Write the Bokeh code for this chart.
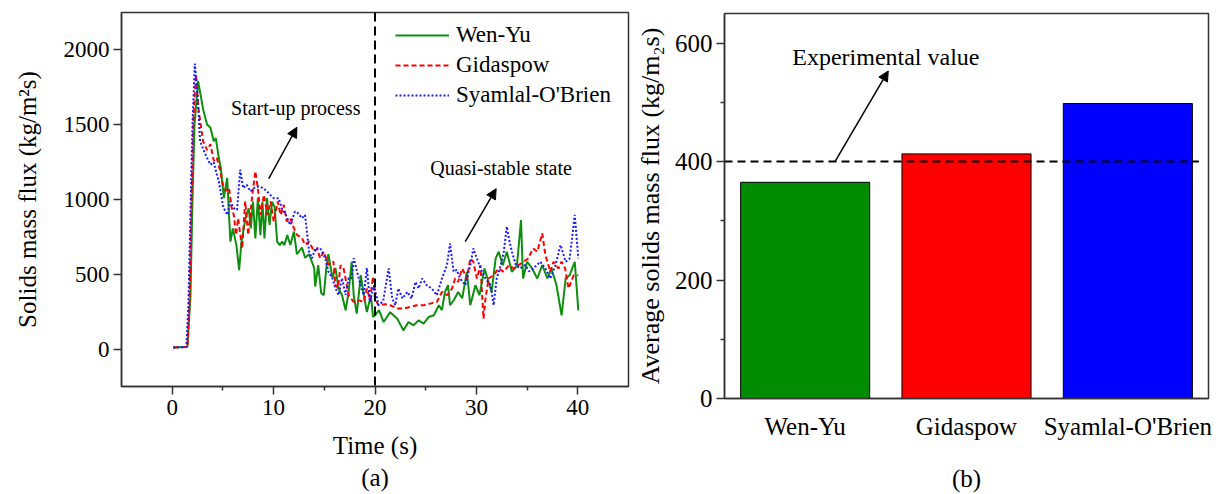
from bokeh.plotting import figure
from bokeh.layouts import row, column
from bokeh.models import (FixedTicker, Span, Arrow, NormalHead, Label, Legend,
                          LegendItem, Range1d, ColumnDataSource, Title)
from bokeh.embed import file_html
from bokeh.resources import INLINE

# ---------------- data ----------------
series_names = ["Wen-Yu", "Gidaspow", "Syamlal-O'Brien"]

wen_yu_t = [0.1, 1.5, 1.8, 2.0, 2.2, 2.55, 2.8, 3.05, 3.44, 3.77,
            4.1, 4.3, 4.6, 4.8, 5.09, 5.42, 5.74, 5.98, 6.33, 6.6,
            6.83, 7.06, 7.3, 7.55, 7.75, 7.97, 8.2, 8.45, 8.7, 8.9,
            9.1, 9.35, 9.6, 9.85, 10.1, 10.35, 10.6, 10.85, 11.06, 11.35,
            11.65, 12.0, 12.3, 12.8, 13.1, 13.5, 14.0, 14.1, 14.4, 14.7,
            14.95, 15.2, 15.4, 15.8, 16.1, 16.4, 16.75, 17.1, 17.4, 17.7,
            17.9, 18.2, 18.6, 18.9, 19.2, 19.6, 19.8, 20.0, 20.4, 20.85,
            21.5, 22.2, 22.8, 23.3, 23.8, 24.3, 24.8, 25.3, 25.8, 26.3,
            26.6, 26.9, 27.2, 27.4, 27.8, 28.2, 28.6, 29.06, 29.4, 29.9,
            30.3, 30.8, 31.5, 31.9, 32.2, 32.6, 33.0, 33.5, 34.0, 34.4,
            34.6, 35.0, 35.5, 36.0, 36.5, 37.0, 37.4, 37.9, 38.4, 38.8,
            39.2, 39.7, 40.05]
wen_yu_flux = [10, 15, 350, 1000, 1500, 1792, 1700, 1602, 1501, 1480,
               1389, 1410, 1277, 1210, 1009, 1144, 718, 807, 695, 528,
               718, 807, 896, 941, 807, 985, 740, 1009, 762, 985,
               740, 1009, 830, 985, 950, 718, 695, 718, 695, 762,
               696, 786, 634, 679, 611, 634, 543, 418, 561, 373,
               360, 543, 634, 477, 543, 405, 360, 259, 382, 583,
               360, 237, 494, 360, 248, 360, 215, 226, 260, 181,
               247, 203, 125, 181, 159, 192, 170, 215, 226, 293,
               260, 382, 427, 293, 330, 382, 340, 516, 293, 427,
               360, 539, 382, 606, 651, 560, 651, 516, 560, 863,
               472, 584, 539, 472, 561, 472, 539, 427, 226, 472,
               494, 584, 259]

gidaspow_t = [0.1, 1.5, 1.7, 1.9, 2.1, 2.35, 2.6, 3.05, 3.44, 3.77,
              4.1, 4.4, 4.7, 5.0, 5.3, 5.6, 5.85, 6.07, 6.3, 6.5,
              6.9, 7.2, 7.5, 7.9, 8.2, 8.45, 8.7, 9.05, 9.4, 9.7,
              10.01, 10.4, 10.7, 11.0, 11.3, 11.65, 12.0, 12.3, 12.8, 13.1,
              13.5, 14.0, 14.3, 14.6, 14.95, 15.4, 15.9, 16.1, 16.35, 16.6,
              16.9, 17.4, 17.9, 18.4, 18.9, 19.2, 19.5, 19.8, 20.0, 20.35,
              21.0, 21.5, 22.2, 22.8, 23.5, 24.1, 24.8, 25.45, 26.1, 26.6,
              27.1, 27.6, 27.9, 28.2, 28.6, 29.06, 29.4, 29.7, 30.05, 30.4,
              30.7, 30.9, 31.2, 31.7, 32.2, 32.7, 33.2, 33.7, 34.15, 34.65,
              35.1, 35.6, 36.0, 36.5, 36.8, 37.3, 37.6, 38.1, 38.4, 38.75,
              39.08, 39.6, 40.05]
gidaspow_flux = [10, 15, 300, 1000, 1550, 1837, 1600, 1389, 1330, 1370,
                 1260, 1280, 1200, 1100, 1060, 1080, 950, 897, 763, 874,
                 673, 987, 763, 1031, 1188, 1076, 897, 1031, 897, 987,
                 853, 987, 897, 965, 853, 875, 809, 763, 741, 697,
                 719, 652, 670, 607, 652, 563, 585, 429, 407, 560,
                 541, 360, 315, 326, 315, 405, 330, 483, 338, 293,
                 300, 293, 271, 271, 282, 293, 293, 304, 315, 382,
                 360, 405, 472, 449, 539, 472, 606, 584, 472, 561,
                 203, 338, 472, 494, 539, 516, 561, 539, 561, 584,
                 606, 673, 651, 774, 629, 516, 584, 539, 584, 540,
                 405, 494, 494]

syamlal_t = [0.1, 1.4, 1.6, 1.8, 2.0, 2.23, 2.5, 2.75, 3.1, 3.44,
             3.77, 4.1, 4.35, 4.6, 5.0, 5.25, 5.45, 5.7, 6.07, 6.4,
             6.7, 7.0, 7.35, 7.7, 8.05, 8.5, 9.0, 9.5, 10.0, 10.5,
             10.8, 11.2, 11.65, 12.1, 12.4, 12.8, 13.1, 13.5, 13.8, 14.1,
             14.6, 15.1, 15.4, 15.8, 16.1, 16.4, 16.75, 17.1, 17.4, 17.7,
             17.9, 18.15, 18.4, 18.65, 18.9, 19.2, 19.5, 19.9, 20.35, 20.8,
             21.35, 21.7, 22.0, 22.3, 22.7, 23.2, 23.6, 24.0, 24.3, 24.65,
             25.1, 25.6, 26.1, 26.6, 27.1, 27.4, 27.75, 28.05, 28.4, 28.9,
             29.4, 29.7, 30.05, 30.4, 30.9, 31.4, 31.7, 32.0, 32.4, 32.7,
             33.0, 33.2, 33.5, 33.9, 34.3, 34.8, 35.2, 35.6, 36.3, 36.8,
             37.3, 37.8, 38.3, 38.8, 39.2, 39.7, 40.05]
syamlal_flux = [10, 15, 300, 900, 1500, 1908, 1700, 1389, 1330, 1277,
                1233, 1250, 1180, 1121, 960, 919, 897, 987, 942, 930,
                1199, 1076, 1099, 1054, 1076, 1087, 1076, 1043, 1009, 1009,
                942, 897, 830, 920, 909, 875, 897, 652, 607, 674,
                674, 607, 518, 474, 407, 362, 474, 362, 474, 474,
                608, 540, 474, 407, 362, 541, 317, 427, 293, 320,
                539, 338, 293, 405, 338, 382, 338, 449, 405, 472,
                427, 405, 360, 472, 562, 707, 517, 530, 472, 427,
                562, 673, 606, 540, 472, 427, 293, 472, 560, 651,
                819, 740, 651, 560, 539, 562, 520, 539, 584, 539,
                472, 562, 696, 584, 606, 897, 606]

switch_time = 20
avg_models = ["Wen-Yu", "Gidaspow", "Syamlal-O'Brien"]
avg_flux = [365, 413, 498]
exp_value = 400

x_ticks_a = [0, 10, 20, 30, 40]
x_minor_a = [5, 15, 25, 35]
y_ticks_a = [0, 500, 1000, 1500, 2000]
y_ticks_b = [0, 200, 400, 600]
y_minor_b = [100, 300, 500]

FONT = "Liberation Serif"
AX = "#333333"

def style_axes(p, tick_size, label_size):
    p.grid.visible = False
    p.outline_line_color = AX
    p.outline_line_width = 1.5
    for ax in p.axis:
        ax.axis_line_color = AX
        ax.axis_line_width = 1.5
        ax.major_tick_line_color = AX
        ax.minor_tick_line_color = AX
        ax.major_tick_line_width = 1.5
        ax.minor_tick_line_width = 1.5
        ax.major_tick_in = 0
        ax.minor_tick_in = 0
        ax.major_tick_out = 8
        ax.minor_tick_out = 4
        ax.major_label_text_font = FONT
        ax.major_label_text_font_size = tick_size
        ax.major_label_text_color = "black"
        ax.axis_label_text_font = FONT
        ax.axis_label_text_font_size = label_size
        ax.axis_label_text_font_style = "normal"
        ax.axis_label_text_color = "black"

# ---------------- panel (a) ----------------
p1 = figure(width=630, height=494, x_range=Range1d(-5, 45), y_range=Range1d(-250, 2250),
            output_backend="svg", toolbar_location=None,
            min_border_left=121, min_border_right=2, min_border_top=12, min_border_bottom=108)
style_axes(p1, "23px", "25px")
p1.xaxis.ticker = FixedTicker(ticks=x_ticks_a, minor_ticks=x_minor_a)
p1.yaxis.ticker = FixedTicker(ticks=y_ticks_a, minor_ticks=[])
p1.xaxis.axis_label = "Time (s)"
p1.yaxis.axis_label = "Solids mass flux (kg/m\u00b2s)"
p1.xaxis.major_label_standoff = 5
p1.xaxis.axis_label_standoff = 14
p1.yaxis.major_label_standoff = 4
p1.yaxis.axis_label_standoff = 20

r1 = p1.line(wen_yu_t, wen_yu_flux, line_color="#0f8f0f", line_width=2)
r2 = p1.line(gidaspow_t, gidaspow_flux, line_color="#ff0000", line_width=2, line_dash="5 3")
r3 = p1.line(syamlal_t, syamlal_flux, line_color="#1a1aff", line_width=2, line_dash="2 2")

p1.add_layout(Span(location=switch_time, dimension="height", line_color="black",
                   line_width=2, line_dash="9 5"))

legend = Legend(items=[LegendItem(label=series_names[0], renderers=[r1]),
                       LegendItem(label=series_names[1], renderers=[r2]),
                       LegendItem(label=series_names[2], renderers=[r3])],
                location=(274, 276), margin=0, padding=0, spacing=0,
                glyph_width=54, glyph_height=30, label_height=30, label_standoff=7,
                label_text_font=FONT, label_text_font_size="23px", label_text_color="black",
                border_line_alpha=0, background_fill_alpha=0)
p1.add_layout(legend)

p1.add_layout(Label(x=5.8, y=1610, text="Start-up process", text_font=FONT,
                    text_font_size="20px", text_color="black", text_baseline="middle"))
p1.add_layout(Arrow(end=NormalHead(size=10, fill_color="black", line_color="black"),
                    x_start=9.52, y_start=1139, x_end=12.3, y_end=1483,
                    line_color="black", line_width=1.5))
p1.add_layout(Label(x=25.45, y=1213, text="Quasi-stable state", text_font=FONT,
                    text_font_size="20px", text_color="black", text_baseline="middle"))
p1.add_layout(Arrow(end=NormalHead(size=10, fill_color="black", line_color="black"),
                    x_start=28.9, y_start=718, x_end=31.95, y_end=1072,
                    line_color="black", line_width=1.5))
p1.add_layout(Title(text="(a)", align="center", text_font=FONT, text_font_size="25px",
                    text_font_style="normal", text_color="black", standoff=0), "below")

# ---------------- panel (b) ----------------
positions = [i + 1 for i in range(len(avg_models))]
src = ColumnDataSource(dict(x=positions, top=avg_flux,
                            color=["#008c00", "#ff0000", "#0000ff"]))
p2 = figure(width=598, height=494, x_range=Range1d(0.5, 3.5), y_range=Range1d(0, 650),
            output_backend="svg", toolbar_location=None,
            min_border_left=94, min_border_right=20, min_border_top=13, min_border_bottom=94)
style_axes(p2, "25px", "25px")
p2.yaxis.axis_label_text_font_size = "26px"
p2.vbar(x="x", top="top", width=0.8, fill_color="color", line_color="black",
        line_width=1, source=src)
p2.segment(x0=[0.5], y0=[exp_value], x1=[3.44], y1=[exp_value], line_color="black",
           line_width=2, line_dash="8 5")
p2.xaxis.ticker = FixedTicker(ticks=positions, minor_ticks=[])
p2.xaxis.major_label_overrides = {pos: name for pos, name in zip(positions, avg_models)}
p2.xaxis.major_tick_out = 0
p2.xaxis.major_label_standoff = 14
p2.xaxis.axis_label = "(b)"
p2.xaxis.axis_label_standoff = 22
p2.yaxis.ticker = FixedTicker(ticks=y_ticks_b, minor_ticks=y_minor_b)
p2.yaxis.axis_label = "Average solids mass flux (kg/m\u2082s)"
p2.yaxis.major_label_standoff = 4
p2.yaxis.axis_label_standoff = 7

p2.add_layout(Label(x=0.92, y=577, text="Experimental value", text_font=FONT,
                    text_font_size="24px", text_color="black", text_baseline="middle"))
p2.add_layout(Arrow(end=NormalHead(size=10, fill_color="black", line_color="black"),
                    x_start=1.185, y_start=exp_value, x_end=1.515, y_end=553,
                    line_color="black", line_width=1.5))

layout = row(column(p1), column(p2))
open("out.html", "w").write(file_html(layout, INLINE))
